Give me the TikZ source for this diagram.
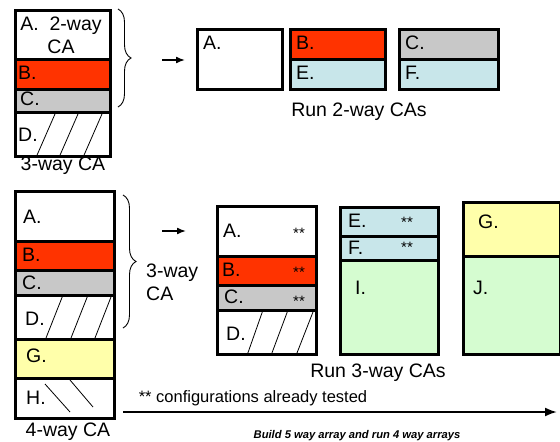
\documentclass[tikz,border=0pt]{standalone}
\usepackage{fontspec}
\setmainfont{Liberation Sans}
\usetikzlibrary{calc,decorations.pathreplacing,arrows.meta}
\definecolor{cared}{HTML}{FF3300}
\definecolor{cagray}{HTML}{C8C8C8}
\definecolor{cablue}{HTML}{C8E6EA}
\definecolor{cagreen}{HTML}{D5FCD0}
\definecolor{cayellow}{HTML}{FFFFAA}
\begin{document}
\begin{tikzpicture}[x=1pt,y=-1pt,
  sec/.style={draw, line width=2.5pt, inner sep=0pt, anchor=north west},
  lbl/.style={anchor=west, inner sep=0pt, font=\fontsize{19.5}{23}\selectfont},
  txt/.style={inner sep=0pt, font=\fontsize{19.5}{23}\selectfont},
  stars/.style={inner sep=0pt, font=\fontsize{15}{17}\selectfont},
  hatch/.style={line width=0.8pt},
  bracestyle/.style={decorate, decoration={brace, amplitude=13pt}, line width=0.9pt},
  arr/.style={-{Latex[length=9pt,width=7pt]}, line width=1.5pt}
]
\useasboundingbox (0,0) rectangle (560,442);

% ---------- top-left 3-way CA ----------
\node[sec, fill=white, minimum width=95pt, minimum height=49pt] (tA) at (14,9) {};
\node[sec, fill=cared, minimum width=95pt, minimum height=30pt] (tB) at (14,58) {};
\node[sec, fill=cagray, minimum width=95pt, minimum height=23pt] (tC) at (14,88) {};
\node[sec, fill=white, minimum width=95pt, minimum height=44pt] (tD) at (14,111) {};
\node[txt, align=center] (tAl) at (61,35.5) {A.\ \ 2-way\\CA};
\node[lbl] (tBl) at (18,73) {B.};
\node[lbl] (tCl) at (20,99) {C.};
\node[lbl] (tDl) at (18,135) {D.};
\draw[hatch] ($(tD.south west)+(22,0)$) -- ($(tD.north west)+(41,3)$);
\draw[hatch] ($(tD.south west)+(45,0)$) -- ($(tD.north west)+(64,3)$);
\draw[hatch] ($(tD.south west)+(69,0)$) -- ($(tD.north west)+(88,3)$);
\node[txt] (t3) at (63,166) {3-way CA};

\coordinate (tbr1) at (118,9);
\coordinate (tbr2) at (118,107);
\draw[bracestyle] (tbr1) -- (tbr2);
\coordinate (ta1) at (162,60);
\coordinate (ta2) at (185,60);
\draw[arr] (ta1) -- (ta2);

% ---------- top-right 2-way CAs ----------
\node[sec, fill=white, minimum width=85pt, minimum height=60pt] (rA) at (196,28) {};
\node[sec, fill=cared, minimum width=95pt, minimum height=30pt] (rB) at (289,28) {};
\node[sec, fill=cablue, minimum width=95pt, minimum height=30pt] (rE) at (289,58) {};
\node[sec, fill=cagray, minimum width=99pt, minimum height=30pt] (rC) at (398,28) {};
\node[sec, fill=cablue, minimum width=99pt, minimum height=30pt] (rF) at (398,58) {};
\node[lbl] (rAl) at (203,43) {A.};
\node[lbl] (rBl) at (296,43) {B.};
\node[lbl] (rEl) at (296,73) {E.};
\node[lbl] (rCl) at (405,43) {C.};
\node[lbl] (rFl) at (405,73) {F.};
\node[txt] (r2) at (359,112) {Run 2-way CAs};

% ---------- bottom-left 4-way CA ----------
\node[sec, fill=white, minimum width=99pt, minimum height=50pt] (bA) at (14,190) {};
\node[sec, fill=cared, minimum width=99pt, minimum height=29pt] (bB) at (14,240) {};
\node[sec, fill=cagray, minimum width=99pt, minimum height=25pt] (bC) at (14,269) {};
\node[sec, fill=white, minimum width=99pt, minimum height=44pt] (bD) at (14,294) {};
\node[sec, fill=cayellow, minimum width=99pt, minimum height=39pt] (bG) at (14,338) {};
\node[sec, fill=white, minimum width=99pt, minimum height=40pt] (bH) at (14,377) {};
\node[lbl] (bAl) at (23,217) {A.};
\node[lbl] (bBl) at (22,255) {B.};
\node[lbl] (bCl) at (22,283) {C.};
\node[lbl] (bDl) at (25,319) {D.};
\node[lbl] (bGl) at (26,356) {G.};
\node[lbl] (bHl) at (26,398) {H.};
\draw[hatch] ($(bD.south west)+(31,0)$) -- ($(bD.north west)+(49,1)$);
\draw[hatch] ($(bD.south west)+(56,0)$) -- ($(bD.north west)+(74,1)$);
\draw[hatch] ($(bD.south west)+(80,0)$) -- ($(bD.north west)+(97,3)$);
\draw[hatch] ($(bH.north west)+(31,7)$) -- ($(bH.north west)+(56,35)$);
\draw[hatch] ($(bH.north west)+(56,3)$) -- ($(bH.north west)+(79,30)$);
\node[txt] (b4) at (68,432) {4-way CA};

\coordinate (bbr1) at (123,195);
\coordinate (bbr2) at (123,328);
\draw[bracestyle] (bbr1) -- (bbr2);
\node[txt, align=left, anchor=west] (b3) at (146,282) {3-way\\CA};
\coordinate (ba1) at (162,231);
\coordinate (ba2) at (186,231);
\draw[arr] (ba1) -- (ba2);

% ---------- box 1 ----------
\node[sec, fill=white, minimum width=99pt, minimum height=50pt] (oA) at (216,205) {};
\node[sec, fill=cared, minimum width=99pt, minimum height=29pt] (oB) at (216,255) {};
\node[sec, fill=cagray, minimum width=99pt, minimum height=25pt] (oC) at (216,284) {};
\node[sec, fill=white, minimum width=99pt, minimum height=44pt] (oD) at (216,309) {};
\node[lbl] (oAl) at (223,231) {A.};
\node[lbl] (oBl) at (222,270) {B.};
\node[lbl] (oCl) at (224,297) {C.};
\node[lbl] (oDl) at (226,334) {D.};
\node[stars] (oAs) at (299,233) {**};
\node[stars] (oBs) at (299,272) {**};
\node[stars] (oCs) at (299,301) {**};
\draw[hatch] ($(oD.south west)+(31,0)$) -- ($(oD.north west)+(47,1)$);
\draw[hatch] ($(oD.south west)+(55,0)$) -- ($(oD.north west)+(72,1)$);
\draw[hatch] ($(oD.south west)+(80,0)$) -- ($(oD.north west)+(97,3)$);

% ---------- box 2 ----------
\node[sec, fill=cablue, minimum width=98pt, minimum height=29pt] (wE) at (339,206) {};
\node[sec, fill=cablue, minimum width=98pt, minimum height=24pt] (wF) at (339,235) {};
\node[sec, fill=cagreen, minimum width=98pt, minimum height=94pt] (wI) at (339,259) {};
\node[lbl] (wEl) at (348,221) {E.};
\node[lbl] (wFl) at (348,248) {F.};
\node[lbl] (wIl) at (355,288) {I.};
\node[stars] (wEs) at (407,222) {**};
\node[stars] (wFs) at (407,247) {**};

% ---------- box 3 ----------
\node[sec, fill=cayellow, minimum width=97pt, minimum height=54pt] (hG) at (462,201) {};
\node[sec, fill=cagreen, minimum width=97pt, minimum height=98pt] (hJ) at (462,255) {};
\node[lbl] (hGl) at (478,222) {G.};
\node[lbl] (hJl) at (473,288) {J.};

\node[txt] (r3) at (378,373) {Run 3-way CAs};
\node[inner sep=0pt, font=\fontsize{16.5}{19}\selectfont] (cfg) at (253,398) {** configurations already tested};
\coordinate (la1) at (123,412);
\coordinate (la2) at (557,412);
\draw[-{Latex[length=12pt,width=9pt]}, line width=2pt] (la1) -- (la2);
\node[inner sep=0pt, font=\fontsize{11.2}{13}\selectfont\bfseries\itshape] (bld) at (357,436) {Build 5 way array and run 4 way arrays};
\end{tikzpicture}
\end{document}
